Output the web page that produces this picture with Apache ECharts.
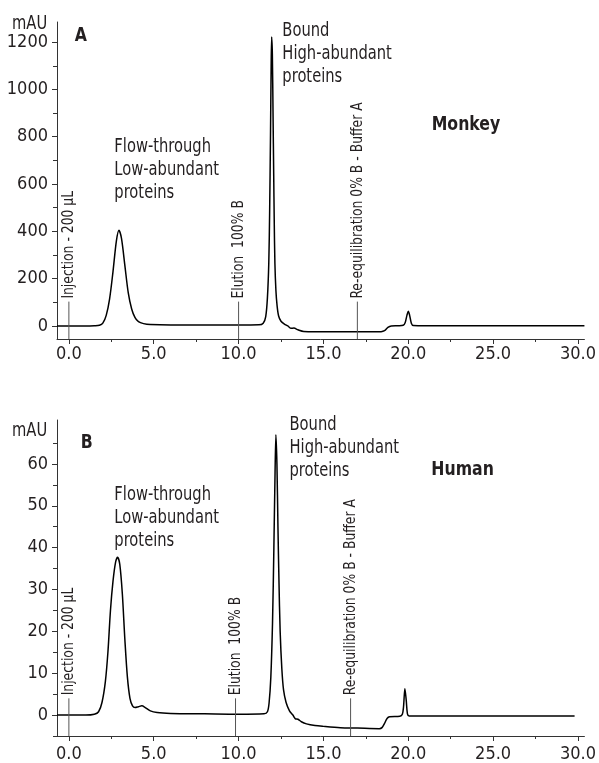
<!DOCTYPE html>
<html>
<head>
<meta charset="utf-8">
<script src="https://cdn.jsdelivr.net/npm/echarts@6.0.0/dist/echarts.min.js"></script>
<style>
html,body{margin:0;padding:0;background:#fff;}
#chart{width:599px;height:763px;}
</style>
</head>
<body>
<div id="chart"></div>
<script>
// chromatogram A (monkey), time in min / absorbance in mAU
var timeA = [-0.7, 1.0, 1.5, 1.8, 2.0, 2.2, 2.4, 2.6, 2.8, 2.95, 3.1, 3.3, 3.5, 3.7, 3.9, 4.1, 4.4, 4.8, 6.0, 8.0,
             10.0, 11.2, 11.45, 11.6, 11.7, 11.78, 11.83, 11.88, 11.92, 11.95, 11.99, 12.03, 12.07, 12.1, 12.14, 12.2,
             12.27, 12.36, 12.5, 12.7, 12.9, 13.1, 13.26, 13.5, 13.84, 14.5, 16.0, 18.4, 18.6, 18.8, 19.0, 19.4, 19.7,
             19.82, 19.92, 20.0, 20.08, 20.18, 20.3, 21.0, 25.0, 30.38];
var mauA = [0, 0, 1, 3, 12, 45, 115, 230, 360, 405, 370, 255, 140, 72, 35, 18, 10, 6, 4, 4,
            4, 5, 12, 40, 120, 266, 480, 800, 1100, 1222, 1150, 900, 640, 450, 266, 150,
            85, 42, 20, 8, 0, -10, -9, -16, -23, -24, -24, -24, -20, -6, 0, 1, 3,
            15, 45, 62, 45, 12, 2, 1, 1, 1];

// chromatogram B (human)
var timeB = [-0.7, 1.0, 1.5, 1.75, 1.95, 2.15, 2.3, 2.45, 2.6, 2.75, 2.87, 3.0, 3.15, 3.3, 3.45, 3.6, 3.75, 3.9, 4.1, 4.3,
             4.5, 4.8, 5.2, 6.0, 8.0, 10.0, 11.5, 11.7, 11.8, 11.9, 12.0, 12.08, 12.15, 12.2, 12.26, 12.32, 12.38, 12.45,
             12.55, 12.65, 12.8, 13.0, 13.2, 13.35, 13.5, 13.7, 14.0, 14.5, 15.0, 16.0, 17.0, 18.3, 18.45, 18.6, 18.75,
             18.9, 19.5, 19.65, 19.72, 19.8, 19.88, 19.95, 20.05, 25.0, 29.8];
var mauB = [0, 0, 0.2, 0.8, 3, 8, 15, 25, 32, 36.5, 37.7, 36, 29, 18, 9, 4, 2.2, 1.8, 2.0, 2.2,
            1.8, 1.0, 0.6, 0.4, 0.3, 0.2, 0.3, 0.8, 3, 9, 22, 40, 58, 67, 60, 45, 32, 20,
            11, 6, 3, 1.0, 0, -0.9, -1.0, -1.6, -2.1, -2.5, -2.7, -3.0, -3.1, -3.25, -3.0, -2.0, -0.8,
            -0.4, -0.3, 0.2, 2, 6.3, 3.5, 0.3, -0.2, -0.25, -0.25];

var xTicks = [0, 5, 10, 15, 20, 25, 30];
var xMinorTicks = [2.5, 7.5, 12.5, 17.5, 22.5, 27.5];
var yTicksA = [0, 200, 400, 600, 800, 1000, 1200];
var yMinorA = [100, 300, 500, 700, 900, 1100];
var yTicksB = [0, 10, 20, 30, 40, 50, 60];
var yMinorB = [-5, 5, 15, 25, 35, 45, 55, 65];

// gradient events (time in min)
var eventTimesA = [0, 10, 17];
var eventTimesB = [0, 9.82, 16.6];
var eventNames = ['Injection - 200 \u00b5L', 'Elution  100% B', 'Re-equilibration 0% B - Buffer A'];

var FONT = "'DejaVu Sans Condensed', 'Liberation Sans Narrow', 'Roboto', sans-serif";
var TEXT = '#231f20';
var AXIS = '#333333';
var X_MIN = -0.7, X_MAX = 30.38;
var Y_RANGE = [[-55, 1285], [-5, 70.5]];
var EVENT_TOP = [103, 4];

function zip(xs, ys) {
	var out = [];
	for (var i = 0; i < xs.length; i++) out.push([xs[i], ys[i]]);
	return out;
}

function xAxes(grid, margin) {
	return [{
		type: 'value', gridIndex: grid, position: 'bottom', min: X_MIN, max: X_MAX,
		axisLine: {show: true, onZero: false, lineStyle: {color: AXIS, width: 1}},
		axisTick: {show: true, customValues: xTicks, length: 5, lineStyle: {color: AXIS}},
		axisLabel: {customValues: xTicks, margin: margin, fontSize: 18, color: TEXT, fontFamily: FONT,
			formatter: function (v) { return v.toFixed(1); }},
		splitLine: {show: false}
	}, {
		type: 'value', gridIndex: grid, position: 'bottom', offset: 0, min: X_MIN, max: X_MAX,
		axisLine: {show: false, onZero: false},
		axisTick: {show: true, customValues: xMinorTicks, length: 3, lineStyle: {color: AXIS}},
		axisLabel: {show: false},
		splitLine: {show: false}
	}];
}

function yAxes(grid, ticks, minor) {
	return [{
		type: 'value', gridIndex: grid, position: 'left', min: Y_RANGE[grid][0], max: Y_RANGE[grid][1],
		axisLine: {show: true, onZero: false, lineStyle: {color: AXIS, width: 1}},
		axisTick: {show: true, customValues: ticks, length: 5, lineStyle: {color: AXIS}},
		axisLabel: {customValues: ticks, margin: 9, fontSize: 18, color: TEXT, fontFamily: FONT,
			formatter: function (v) { return String(v); }},
		splitLine: {show: false}
	}, {
		type: 'value', gridIndex: grid, position: 'left', offset: 0, min: Y_RANGE[grid][0], max: Y_RANGE[grid][1],
		axisLine: {show: false, onZero: false},
		axisTick: {show: true, customValues: minor, length: 4, lineStyle: {color: AXIS}},
		axisLabel: {show: false},
		splitLine: {show: false}
	}];
}

function traceSeries(grid, xs, ys) {
	return {
		type: 'line', xAxisIndex: grid * 2, yAxisIndex: grid * 2,
		data: zip(xs, ys), showSymbol: false, smooth: 0.3, silent: true,
		lineStyle: {color: '#000', width: 1.5}
	};
}

function eventSeries(grid, times) {
	var list = [];
	for (var i = 0; i < times.length; i++) {
		list.push({
			type: 'line', xAxisIndex: grid * 2, yAxisIndex: grid * 2, showSymbol: false, silent: true,
			data: [[times[i], Y_RANGE[grid][0]], [times[i], EVENT_TOP[grid]]],
			lineStyle: {color: '#555', width: 1}
		});
	}
	return list;
}

var chart = echarts.init(document.getElementById('chart'), null, {renderer: 'canvas'});
var option = {
	animation: false,
	backgroundColor: '#fff',
	grid: [
		{left: 57, top: 22, width: 533.7, height: 317},
		{left: 57, top: 420, width: 533.7, height: 319}
	],
	xAxis: xAxes(0, 6).concat(xAxes(1, 9)),
	yAxis: yAxes(0, yTicksA, yMinorA).concat(yAxes(1, yTicksB, yMinorB)),
	series: [traceSeries(0, timeA, mauA), traceSeries(1, timeB, mauB)]
		.concat(eventSeries(0, eventTimesA)).concat(eventSeries(1, eventTimesB))
};
chart.setOption(option);

// annotations placed in data coordinates
var notes = [
	{grid: 0, t: 0.7, v: 1225, text: 'A', bold: true, align: 'center', va: 'middle'},
	{grid: 0, t: -1.28, v: 1276, text: 'mAU', align: 'right', va: 'middle'},
	{grid: 0, t: 2.68, v: 807, text: 'Flow-through\nLow-abundant\nproteins', align: 'left', va: 'top'},
	{grid: 0, t: 12.58, v: 1295, text: 'Bound\nHigh-abundant\nproteins', align: 'left', va: 'top'},
	{grid: 0, t: 23.4, v: 849, text: 'Monkey', bold: true, align: 'center', va: 'middle'},
	{grid: 1, t: 1.05, v: 65.0, text: 'B', bold: true, align: 'center', va: 'middle'},
	{grid: 1, t: -1.28, v: 67.9, text: 'mAU', align: 'right', va: 'middle'},
	{grid: 1, t: 2.68, v: 55.2, text: 'Flow-through\nLow-abundant\nproteins', align: 'left', va: 'top'},
	{grid: 1, t: 13.0, v: 72.0, text: 'Bound\nHigh-abundant\nproteins', align: 'left', va: 'top'},
	{grid: 1, t: 23.2, v: 58.5, text: 'Human', bold: true, align: 'center', va: 'middle'}
];

function px(grid, t, v) {
	return chart.convertToPixel({xAxisIndex: grid * 2, yAxisIndex: grid * 2}, [t, v]);
}

var graphics = [];
notes.forEach(function (n) {
	var p = px(n.grid, n.t, n.v);
	graphics.push({
		type: 'text', x: p[0], y: p[1], scaleX: n.bold ? 0.92 : 0.86, silent: true,
		style: {
			text: n.text, fill: TEXT, lineHeight: 23,
			font: (n.bold ? 'bold 19px ' : '19px ') + FONT,
			align: n.align, verticalAlign: n.va, textAlign: n.align, textVerticalAlign: n.va
		}
	});
});
[eventTimesA, eventTimesB].forEach(function (times, grid) {
	times.forEach(function (t, i) {
		var p = px(grid, t, EVENT_TOP[grid]);
		graphics.push({
			type: 'text', x: p[0], y: p[1] - 3, rotation: Math.PI / 2, scaleX: 0.86, silent: true,
			style: {
				text: eventNames[i], fill: TEXT, font: '16px ' + FONT,
				align: 'left', verticalAlign: 'middle', textAlign: 'left', textVerticalAlign: 'middle'
			}
		});
	});
});
chart.setOption({graphic: graphics});
</script>
</body>
</html>
